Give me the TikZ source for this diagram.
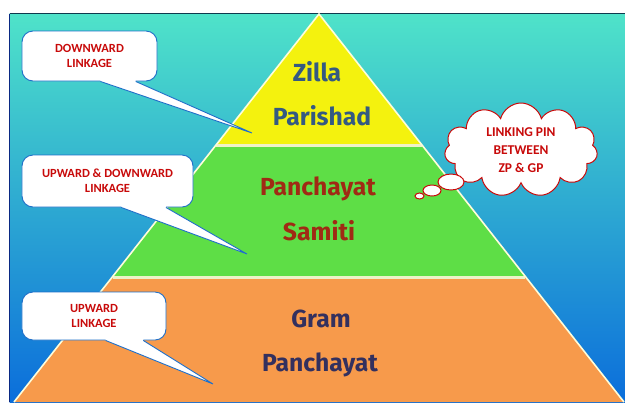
\documentclass[tikz,border=0pt]{standalone}
\usepackage{fontspec}
\setmainfont{Carlito}
\newfontfamily\pyrfont{Fira Sans}
\usetikzlibrary{shapes.symbols,shapes.geometric,calc}

\definecolor{bgtop}{HTML}{4FE3C9}
\definecolor{bgmid}{HTML}{1EC3E5}
\definecolor{bgbot}{HTML}{0B6EDB}
\definecolor{edgedark}{HTML}{0E3A4E}
\definecolor{zyellow}{HTML}{F4F20E}
\definecolor{zgreen}{HTML}{5EDE46}
\definecolor{zorange}{HTML}{F79A4B}
\definecolor{sepcol}{HTML}{EEF2C8}
\definecolor{zcol}{HTML}{345A82}
\definecolor{scol}{HTML}{A02A14}
\definecolor{gcol}{HTML}{33305E}
\definecolor{cblue}{HTML}{1F6FC8}
\definecolor{cred}{HTML}{C80A0A}

\tikzset{
  lvltext/.style={anchor=base, inner sep=0, font=\pyrfont\bfseries\fontsize{24.8}{30}\selectfont},
  callout/.style={draw=cblue, line width=0.9bp, fill=white, rounded corners=11bp, inner sep=0,
    align=center, text=cred, font=\bfseries\fontsize{12.5}{15.5}\selectfont},
  ptr/.style={draw=cblue, line width=0.9bp, line join=miter},
  bubble/.style={ellipse, draw=cred, fill=white, line width=1bp, inner sep=0},
}

\newcommand{\callptr}[2]{%
  \fill[white] ($(#1.south west)!0.58!(#1.south east)+(0,-2)$) --
    ($(#1.south west)!0.58!(#1.south east)$) -- (#2) --
    ($(#1.south west)!0.84!(#1.south east)$) --
    ($(#1.south west)!0.84!(#1.south east)+(0,-2)$) -- cycle;
  \draw[ptr] ($(#1.south west)!0.58!(#1.south east)$) -- (#2) --
    ($(#1.south west)!0.84!(#1.south east)$);}

\begin{document}
\begin{tikzpicture}[x=1bp,y=-1bp]
\useasboundingbox (0,0) rectangle (625,402);
% background
\shade[top color=bgtop, middle color=bgmid, bottom color=bgbot] (9.5,13) rectangle (625,402);
\draw[edgedark, line width=1.6bp] (9.5,13.5) -- (625,13.5);
\draw[edgedark!70!blue, line width=1bp] (9.8,13.5) -- (9.8,402);

% pyramid
\coordinate (apex) at (319,14);
\coordinate (l1) at (216,145);
\coordinate (r1) at (422,145);
\coordinate (l2) at (113,277);
\coordinate (r2) at (525,277);
\coordinate (l3) at (14,402);
\coordinate (r3) at (624,402);
\fill[zyellow] (apex) -- (r1) -- (l1) -- cycle;
\fill[zgreen] (l1) -- (r1) -- (r2) -- (l2) -- cycle;
\fill[zorange] (l2) -- (r2) -- (r3) -- (l3) -- cycle;
\draw[sepcol, line width=3bp] (l1) -- (r1);
\draw[sepcol, line width=3bp] (l2) -- (r2);
\draw[white!85!yellow, line width=1.6bp] (l3) -- (apex) -- (r3);

% level texts
\node[lvltext, text=zcol] (zilla) at (317,81) {Zilla};
\node[lvltext, text=zcol] (parishad) at (322,125) {Parishad};
\node[lvltext, text=scol] (panch1) at (318,195) {Panchayat};
\node[lvltext, text=scol] (samiti) at (319,240) {Samiti};
\node[lvltext, text=gcol] (gram) at (321,327) {Gram};
\node[lvltext, text=gcol] (panch2) at (320,371) {Panchayat};

% callouts
\node[callout, minimum width=135bp, minimum height=50bp] (c1) at (89.5,56) {DOWNWARD\\LINKAGE};
\coordinate (t1) at (252,133);
\callptr{c1}{t1}

\node[callout, minimum width=171bp, minimum height=52bp] (c2) at (107.5,181) {UPWARD \& DOWNWARD\\LINKAGE};
\coordinate (t2) at (247,254);
\callptr{c2}{t2}

\node[callout, minimum width=144bp, minimum height=48bp] (c3) at (94,316) {UPWARD\\LINKAGE};
\coordinate (t3) at (213,384);
\callptr{c3}{t3}

% thought cloud
\node[cloud, cloud puffs=11, aspect=1.6, draw=cred, line width=1bp, fill=white,
  minimum width=153bp, minimum height=94bp, inner sep=0, align=center, text=cred,
  font=\bfseries\fontsize{13.5}{17.8}\selectfont] (cloud) at (521,150) {LINKING PIN\\BETWEEN\\ZP \& GP};
\node[bubble, minimum width=26bp, minimum height=16bp] (b1) at (451,182) {};
\node[bubble, minimum width=18bp, minimum height=11bp] (b2) at (432,190.5) {};
\node[bubble, minimum width=9bp, minimum height=6bp] (b3) at (419.5,196) {};
\end{tikzpicture}
\end{document}
